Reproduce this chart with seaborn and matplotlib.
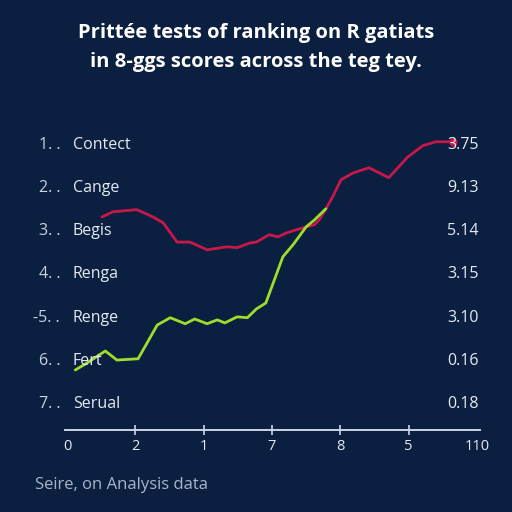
import pandas as pd
import matplotlib
matplotlib.use("Agg")
import matplotlib.pyplot as plt
import matplotlib.transforms as mtransforms
import seaborn as sns

# data (x in tick-slot units, y in row units: row 1 = 7 ... row 7 = 1)
red_x = [0.51, 0.67, 1.02, 1.26, 1.41, 1.61, 1.80, 2.05, 2.34, 2.49, 2.68, 2.77, 2.96, 3.09,
         3.21, 3.35, 3.50, 3.62, 3.69, 3.79, 3.89, 4.01, 4.19, 4.42, 4.71, 4.99, 5.21, 5.40, 5.65]
red_y = [5.33, 5.45, 5.50, 5.33, 5.19, 4.75, 4.75, 4.57, 4.64, 4.62, 4.73, 4.75, 4.92, 4.87,
         4.96, 5.03, 5.10, 5.15, 5.26, 5.52, 5.80, 6.19, 6.35, 6.47, 6.24, 6.72, 6.98, 7.07, 7.07]
green_x = [0.12, 0.29, 0.56, 0.73, 1.04, 1.32, 1.51, 1.73, 1.87, 2.05, 2.20, 2.31, 2.49, 2.64,
           2.77, 2.91, 3.16, 3.31, 3.50, 3.62, 3.79]
green_y = [1.79, 1.95, 2.23, 2.02, 2.05, 2.83, 3.00, 2.86, 2.97, 2.86, 2.95, 2.88, 3.02, 3.00,
           3.20, 3.34, 4.41, 4.69, 5.10, 5.26, 5.52]

row_nums = ["1. .", "2. .", "3. .", "4. .", "-5. .", "6. .", "7. ."]
row_names = ["Contect", "Cange", "Begis", "Renga", "Renge", "Fert", "Serual"]
row_values = ["3.75", "9.13", "5.14", "3.15", "3.10", "0.16", "0.18"]
x_labels = ["0", "2", "1", "7", "8", "5", "110"]

bg = "#0b1f40"
red = "#c8174b"
green = "#9fdc2c"
txt = "#e4eaf3"

sns.set_theme(style="dark")
plt.rcParams["font.family"] = ["Open Sans", "DejaVu Sans"]

fig = plt.figure(figsize=(5.12, 5.12), dpi=100, facecolor=bg)
ax = fig.add_axes([0.127, 0.160, 0.811, 0.596])
ax.set_facecolor(bg)

red_df = pd.DataFrame({"x": red_x, "y": red_y})
green_df = pd.DataFrame({"x": green_x, "y": green_y})
sns.lineplot(data=red_df, x="x", y="y", color=red, linewidth=2.0, sort=False, ax=ax)
sns.lineplot(data=green_df, x="x", y="y", color=green, linewidth=2.0, sort=False, ax=ax)
ax.plot(red_x[-1:], red_y[-1:], "o", color=red, markersize=5)

ax.set_xlim(-0.03, 6.05)
ax.set_ylim(0.40, 7.46)
ax.set_xlabel("")
ax.set_ylabel("")
ax.grid(False)

for s in ["top", "right", "left"]:
    ax.spines[s].set_visible(False)
ax.spines["bottom"].set_color("#c9d5e8")
ax.spines["bottom"].set_linewidth(1.4)

ax.set_xticks(range(len(x_labels)))
ax.set_xticklabels(x_labels, color=txt, fontsize=10.5)
ax.tick_params(axis="x", direction="inout", length=7, width=1.2, color="#c9d5e8", pad=3, bottom=True)
ticks = ax.xaxis.get_major_ticks()
ticks[0].tick1line.set_visible(False)
ticks[-1].tick1line.set_visible(False)
ax.set_yticks([])

trans = mtransforms.blended_transform_factory(ax.transAxes, ax.transData)
for i in range(len(row_names)):
    yv = 7 - i
    ax.text(-0.012, yv, row_nums[i], transform=trans, ha="right", va="center",
            color="#c8d2e0", fontsize=11.5)
    ax.text(0.019, yv, row_names[i], transform=trans, ha="left", va="center",
            color=txt, fontsize=11.5)
    ax.text(0.92, yv, row_values[i], transform=trans, ha="left", va="center",
            color=txt, fontsize=11.5)

fig.text(0.5, 0.935, "Prittée tests of ranking on R gatiats", ha="center", va="center",
         color="white", fontsize=14.5, fontweight="bold")
fig.text(0.5, 0.878, "in 8-ggs scores across the teg tey.", ha="center", va="center",
         color="white", fontsize=14.5, fontweight="bold")
fig.text(0.068, 0.053, "Seire, on Analysis data", ha="left", va="center",
         color="#a9b5c9", fontsize=12)

fig.savefig("out.png", dpi=100, facecolor=bg)
